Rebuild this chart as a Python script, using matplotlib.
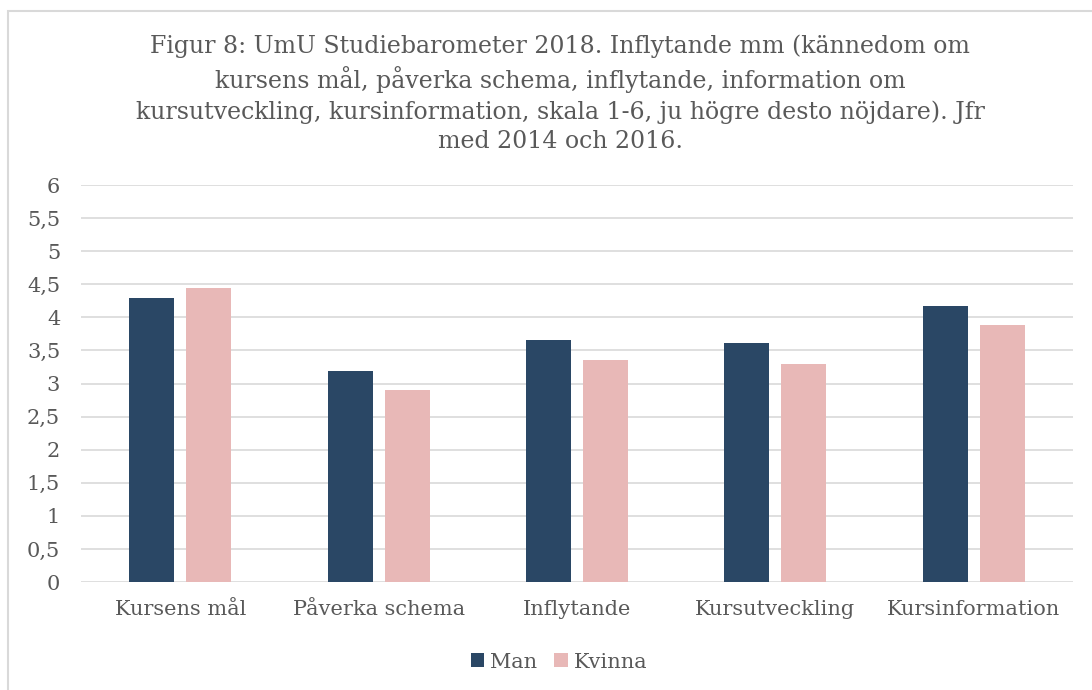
import matplotlib
matplotlib.use("Agg")
import matplotlib.pyplot as plt
from matplotlib.patches import Rectangle
import numpy as np

categories = ["Kursens mål", "Påverka schema", "Inflytande", "Kursutveckling", "Kursinformation"]
man = [4.29, 3.19, 3.65, 3.61, 4.17]
kvinna = [4.44, 2.90, 3.36, 3.30, 3.88]
series_names = ["Man", "Kvinna"]
yticks = [0, 0.5, 1, 1.5, 2, 2.5, 3, 3.5, 4, 4.5, 5, 5.5, 6]
ytick_labels = ["0", "0,5", "1", "1,5", "2", "2,5", "3", "3,5", "4", "4,5", "5", "5,5", "6"]
title = ("Figur 8: UmU Studiebarometer 2018. Inflytande mm (kännedom om\n"
         "kursens mål, påverka schema, inflytande, information om\n"
         "kursutveckling, kursinformation, skala 1-6, ju högre desto nöjdare). Jfr\n"
         "med 2014 och 2016.")

W, H = 1092, 690
fig = plt.figure(figsize=(W / 100, H / 100), dpi=100)
plt.rcParams['font.family'] = ['DejaVu Serif']
txt = "#595959"
c_man = "#2a4765"
c_kv = "#e8b8b7"

# outer frame
fig.patches.append(Rectangle((8 / W, -0.05), 1.1, (H - 11) / H + 0.05, transform=fig.transFigure,
                             fill=False, edgecolor="#d9d9d9", linewidth=1.5))

ax = fig.add_axes([81 / W, (H - 582) / H, (1073 - 81) / W, (582 - 185) / H])
x = np.arange(len(categories))
bw = 0.227
off = 0.144
ax.bar(x - off, man, bw, color=c_man, label=series_names[0], zorder=3)
ax.bar(x + off, kvinna, bw, color=c_kv, label=series_names[1], zorder=3)
ax.set_xlim(-0.5, len(categories) - 0.5)
ax.set_ylim(0, 6)
ax.set_yticks(yticks)
ax.set_yticklabels(ytick_labels)
ax.set_xticks(x)
ax.set_xticklabels(categories)
ax.tick_params(axis='both', length=0, labelsize=15, colors=txt)
ax.tick_params(axis='y', pad=15)
ax.tick_params(axis='x', pad=13)
for lab in ax.get_yticklabels():
    lab.set_horizontalalignment('right')
ax.grid(axis='y', color="#d9d9d9", linewidth=1.2, zorder=0)
for s in ax.spines.values():
    s.set_visible(False)

fig.text(560 / W, 1 - 94 / H, title, ha='center', va='center', fontsize=17,
         color=txt, linespacing=1.36)

leg = fig.legend(loc='center', bbox_to_anchor=(559 / W, 1 - 662 / H), ncol=2, frameon=False,
                 fontsize=15, labelcolor=txt, handlelength=0.65, handleheight=0.65,
                 columnspacing=0.8, handletextpad=0.3)

fig.savefig("out.png", dpi=100, facecolor="white")
